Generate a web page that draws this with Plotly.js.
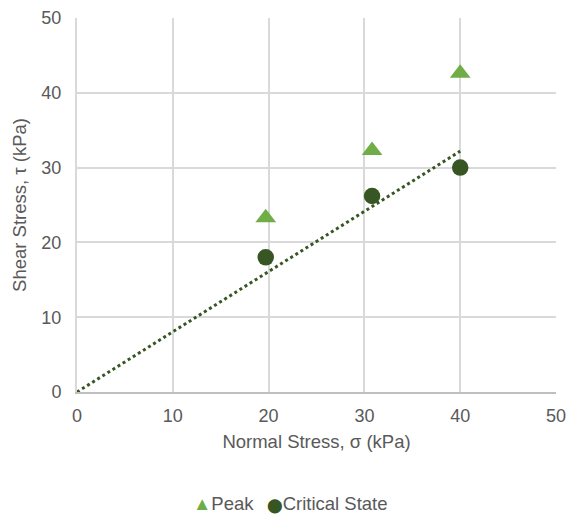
<!DOCTYPE html>
<html>
<head>
<meta charset="utf-8">
<script src="https://cdn.plot.ly/plotly-3.0.1.min.js"></script>
<style>html,body{margin:0;padding:0;background:#fff;}#chart{width:575px;height:514px;}</style>
</head>
<body>
<div id="chart"></div>
<script>
const peakX = [19.7, 30.8, 40.0];
const peakY = [23.3, 32.3, 42.6];
const critX = [19.7, 30.8, 40.0];
const critY = [18.0, 26.2, 30.0];
const trendX = [0, 40.0];
const trendY = [0, 32.2];
const tickVals = [0, 10, 20, 30, 40, 50];
const seriesNames = ['Peak', 'Critical State'];
const seriesColors = ['#70AD47', '#375623'];

const font = "Liberation Sans, Arial, sans-serif";
const traces = [
  {x: trendX, y: trendY, mode: 'lines', type: 'scatter', showlegend: false,
   line: {color: '#375623', width: 3, dash: 'dot'}, hoverinfo: 'skip'},
  {x: peakX, y: peakY, mode: 'markers', type: 'scatter', name: seriesNames[0], showlegend: false,
   marker: {symbol: 'triangle-up', size: 18, color: seriesColors[0]}},
  {x: critX, y: critY, mode: 'markers', type: 'scatter', name: seriesNames[1], showlegend: false,
   marker: {symbol: 'circle', size: 16.5, color: seriesColors[1]}}
];
const legendAnn = [
  {text: '<span style="color:' + seriesColors[0] + '">▲</span>' + seriesNames[0], x: 192},
  {text: '<span style="color:' + seriesColors[1] + ';font-family:DejaVu Sans;font-size:14px">⬤</span>' + seriesNames[1], x: 266}
].map(a => ({
  text: a.text, xref: 'paper', yref: 'paper', x: (a.x - 77) / 479, y: (392 - 503) / 374,
  xanchor: 'left', yanchor: 'middle', showarrow: false, borderpad: 0,
  font: {size: 18.5, color: '#595959', family: font}
}));
const layout = {
  width: 575, height: 514,
  margin: {l: 77, r: 19, t: 18, b: 122, autoexpand: false},
  paper_bgcolor: '#fff', plot_bgcolor: '#fff',
  font: {family: font, color: '#595959', size: 18.5},
  xaxis: {range: [0, 50], tickvals: tickVals, ticktext: tickVals.map(String), automargin: false,
    showgrid: true, gridcolor: '#D9D9D9', gridwidth: 2, zeroline: false,
    showline: true, linecolor: '#BFBFBF', linewidth: 2, ticks: '',
    tickfont: {size: 18, color: '#595959'}, ticklabelstandoff: 6,
    title: {text: 'Normal Stress, σ (kPa)', font: {size: 18.5, color: '#595959'}, standoff: 10}},
  yaxis: {range: [0, 50], tickvals: tickVals, ticktext: tickVals.map(String), automargin: false,
    showgrid: true, gridcolor: '#D9D9D9', gridwidth: 2, zeroline: false,
    showline: true, linecolor: '#D9D9D9', linewidth: 2, ticks: '',
    tickfont: {size: 18, color: '#595959'}, ticklabelstandoff: 10,
    title: {text: 'Shear Stress, τ (kPa)', font: {size: 18.5, color: '#595959'}, standoff: 10}},
  showlegend: false,
  annotations: legendAnn
};
Plotly.newPlot('chart', traces, layout, {staticPlot: true, displayModeBar: false});
</script>
</body>
</html>
